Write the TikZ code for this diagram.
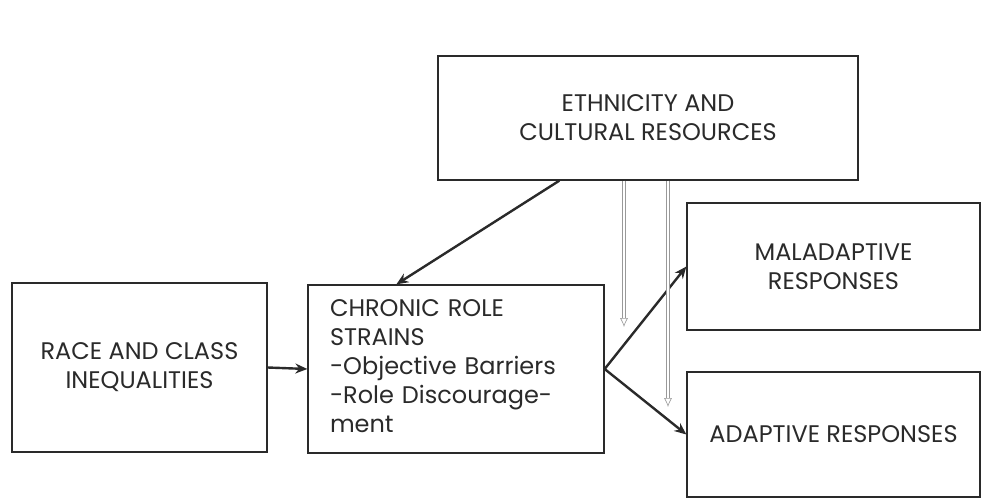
\documentclass[tikz,border=0pt]{standalone}
\usepackage{fontspec}
\setmainfont{Poppins}
\usetikzlibrary{arrows.meta}
\definecolor{ink}{HTML}{2A2A2A}
\tikzset{
  box/.style={draw=ink, line width=1.3pt, rectangle, inner sep=0pt, align=center,
    text=ink, font=\fontsize{24}{29}\selectfont},
  conn/.style={draw=ink, line width=2.4pt, -{Stealth[length=12pt,width=10pt]}},
  hollow/.style={draw=gray!80, line width=0.6pt, double=white, double distance=2pt,
    -{Latex[open,length=9pt,width=8pt]}}
}
\begin{document}
\begin{tikzpicture}[x=1pt,y=-1pt]
\useasboundingbox (0,0) rectangle (982,500);
\node[box, minimum width=420pt, minimum height=124pt] (eth) at (648,118) {ETHNICITY AND\\CULTURAL RESOURCES};
\node[box, minimum width=255pt, minimum height=169pt] (race) at (139.5,367.5) {RACE AND CLASS\\INEQUALITIES};
\node[box, minimum width=296pt, minimum height=168pt, align=left, text width=252pt, inner xsep=22pt] (chronic) at (456,369) {CHRONIC ROLE\\STRAINS\\-Objective Barriers\\-Role Discourage-\\ment\vphantom{g}};
\node[box, minimum width=293pt, minimum height=127pt] (mal) at (833.5,266.5) {MALADAPTIVE\\RESPONSES};
\node[box, minimum width=293pt, minimum height=125pt] (ada) at (833.5,434.5) {ADAPTIVE RESPONSES};
\coordinate (h1) at (624,327);
\coordinate (h2) at (668,407);
\draw[conn] (race.east) -- (chronic.west);
\draw[conn] ([xshift=122pt]eth.south west) -- ([xshift=89pt]chronic.north west);
\draw[conn] (chronic.east) -- (mal.west);
\draw[conn] (chronic.east) -- (ada.west);
\draw[hollow] (h1 |- eth.south) -- (h1);
\draw[hollow] (h2 |- eth.south) -- (h2);
\end{tikzpicture}
\end{document}
